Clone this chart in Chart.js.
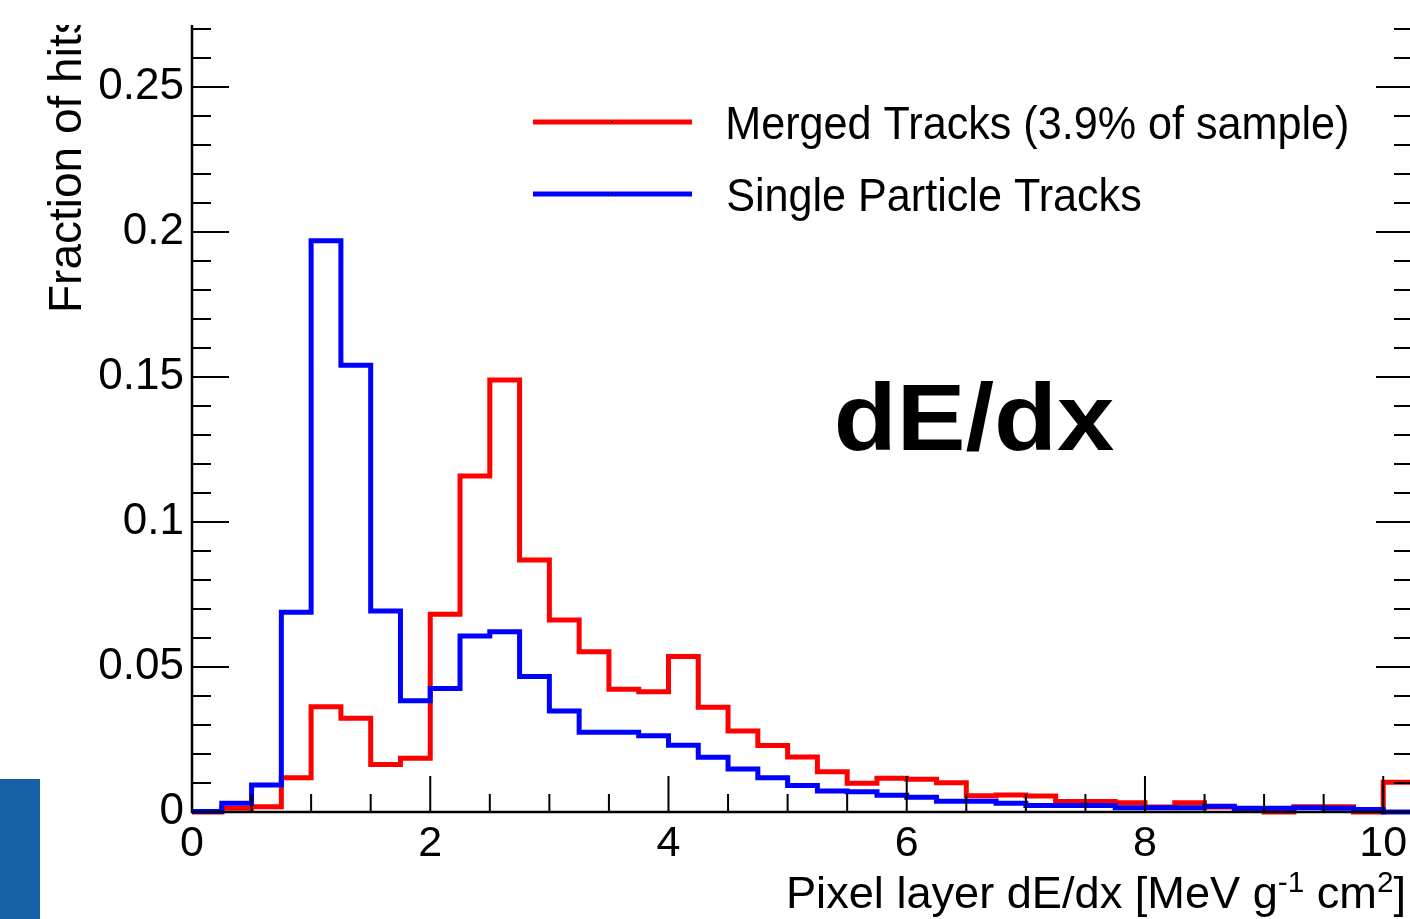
<!DOCTYPE html>
<html><head><meta charset="utf-8">
<script src="https://cdn.jsdelivr.net/npm/chart.js@4"></script>
<style>
html,body{margin:0;padding:0;background:#fff;overflow:hidden;width:1410px;height:919px}
#wrap{position:absolute;left:0;top:0;width:1430px;height:919px}
#deco{position:absolute;left:0;top:779px;width:40px;height:140px;background:#1660a6;z-index:2}
</style></head><body>
<div id="wrap"><canvas id="c" width="1430" height="919"></canvas></div>
<div id="deco"></div>
<script>
// ---- data ----
const binEdges = [0,0.25,0.5,0.75,1,1.25,1.5,1.75,2,2.25,2.5,2.75,3,3.25,3.5,3.75,4,4.25,4.5,4.75,5,5.25,5.5,5.75,6,6.25,6.5,6.75,7,7.25,7.5,7.75,8,8.25,8.5,8.75,9,9.25,9.5,9.75,10,10.25];
const mergedTracks = [0,0.0013,0.0018,0.0118,0.0363,0.0323,0.0164,0.0185,0.0682,0.1159,0.149,0.0869,0.0662,0.0553,0.0423,0.0415,0.0536,0.0361,0.0279,0.0229,0.019,0.0139,0.0099,0.0116,0.0113,0.0101,0.0056,0.0059,0.0055,0.0036,0.0036,0.0032,0.0017,0.0032,0.0017,0.0012,0,0.0018,0.0018,0,0.0103];
const singleTracks = [0.0002,0.003,0.0093,0.0689,0.197,0.1541,0.0693,0.0384,0.0426,0.0607,0.0622,0.0467,0.0348,0.0275,0.0275,0.0263,0.023,0.0189,0.0148,0.0118,0.0091,0.0072,0.007,0.0058,0.0051,0.0037,0.0037,0.003,0.0022,0.0022,0.0022,0.0015,0.0015,0.0015,0.002,0.0013,0.0013,0.0015,0.0013,0.0009,0];
const xTickValues = [0,2,4,6,8,10];
const xTickLabels = ['0','2','4','6','8','10'];
const yTickValues = [0,0.05,0.1,0.15,0.2,0.25];
const yTickLabels = ['0','0.05','0.1','0.15','0.2','0.25'];
const seriesNames = ['Merged Tracks (3.9% of sample)','Single Particle Tracks'];
const yTitle = 'Fraction of hits';
const xTitleParts = ['Pixel layer dE/dx [MeV g','-1',' cm','2',']'];
const annotationText = 'dE/dx';

const FONT = '"Liberation Sans", Arial, Helvetica, sans-serif';

function histPoints(vals){
  const pts = vals.map((v,i)=>({x:binEdges[i], y:v}));
  pts.push({x:binEdges[vals.length], y:vals[vals.length-1]});
  return pts;
}

function scaledText(ctx, text, x, y, targetWidth){
  const m = ctx.measureText(text);
  const ink = m.actualBoundingBoxLeft + m.actualBoundingBoxRight;
  const sx = targetWidth / ink;
  ctx.save();
  ctx.translate(x, y);
  ctx.scale(sx, 1);
  ctx.fillText(text, m.actualBoundingBoxLeft, 0);
  ctx.restore();
  return sx;
}

const decor = {
  id:'decor',
  afterDatasetsDraw(chart){
    const {ctx, chartArea:a, scales:{x, y}} = chart;
    ctx.save();
    ctx.strokeStyle = '#000';
    ctx.lineCap = 'butt';
    ctx.lineWidth = 2.5;
    ctx.beginPath();
    ctx.moveTo(a.left, a.top); ctx.lineTo(a.left, a.bottom); ctx.lineTo(a.right, a.bottom); ctx.lineTo(a.right, a.top);
    ctx.stroke();
    ctx.lineWidth = 2;
    ctx.beginPath();
    for (let k = 1; k <= 20; k++){
      const px = x.getPixelForValue(k*0.5);
      const L = (k % 4 === 0) ? 36 : 18;
      ctx.moveTo(px, a.bottom); ctx.lineTo(px, a.bottom - L);
    }
    for (let k = 1; k <= 27; k++){
      const py = y.getPixelForValue(k*0.01);
      const L = (k % 5 === 0) ? 37 : 19;
      ctx.moveTo(a.left, py); ctx.lineTo(a.left + L, py);
      ctx.moveTo(a.right, py); ctx.lineTo(a.right - L, py);
    }
    ctx.stroke();
    ctx.restore();
  },
  afterDraw(chart){
    const {ctx} = chart;
    ctx.save();
    const rows = [{c:'#ff0000', y:122}, {c:'#0000ff', y:194}];
    ctx.lineWidth = 5;
    rows.forEach(r => {
      ctx.strokeStyle = r.c;
      ctx.beginPath(); ctx.moveTo(533, r.y); ctx.lineTo(692, r.y); ctx.stroke();
      ctx.fillStyle = '#000';
      ctx.fillRect(611, r.y - 1, 2, 2);
    });
    ctx.fillStyle = '#000';
    ctx.textBaseline = 'alphabetic';
    ctx.textAlign = 'left';
    ctx.font = '47px ' + FONT;
    const sx = scaledText(ctx, seriesNames[0], 728, 139, 619);
    {
      const m = ctx.measureText(seriesNames[1]);
      ctx.save(); ctx.translate(728, 211); ctx.scale(sx, 1);
      ctx.fillText(seriesNames[1], m.actualBoundingBoxLeft, 0); ctx.restore();
    }
    ctx.font = 'bold 94px ' + FONT;
    scaledText(ctx, annotationText, 837, 450, 277);
    const parts = xTitleParts.map((t, i) => ({t, sup: i === 1 || i === 3}));
    let total = 0;
    parts.forEach(p => { ctx.font = (p.sup ? '29px ' : '44px ') + FONT; p.w = ctx.measureText(p.t).width; total += p.w; });
    const xsx = 620 / total;
    ctx.save();
    ctx.translate(786, 908);
    ctx.scale(xsx, 1);
    let cx = 0;
    parts.forEach(p => { ctx.font = (p.sup ? '29px ' : '44px ') + FONT; ctx.fillText(p.t, cx, p.sup ? -16 : 0); cx += p.w; });
    ctx.restore();
    ctx.save();
    ctx.beginPath(); ctx.rect(0, 25, 200, 900); ctx.clip();
    ctx.translate(81, 313);
    ctx.rotate(-Math.PI/2);
    ctx.font = '46px ' + FONT;
    ctx.fillText(yTitle, 0, 0);
    ctx.restore();
    ctx.restore();
  }
};

function noPad(s){ s.paddingTop = 0; s.paddingBottom = 0; s.paddingLeft = 0; s.paddingRight = 0; }

new Chart(document.getElementById('c'), {
  type: 'line',
  data: {
    datasets: [
      {label: seriesNames[0], data: histPoints(mergedTracks), borderColor:'#ff0000', borderWidth:5, stepped:'before', pointRadius:0, fill:false, clip:false, order:1},
      {label: seriesNames[1], data: histPoints(singleTracks), borderColor:'#0000ff', borderWidth:5, stepped:'before', pointRadius:0, fill:false, clip:false, order:0}
    ]
  },
  options: {
    responsive:false, animation:false, devicePixelRatio:1,
    layout:{padding:{top:25, right:17, left:0, bottom:0}},
    plugins:{legend:{display:false}, tooltip:{enabled:false}},
    scales:{
      x:{type:'linear', min:0, max:10.25,
        grid:{display:false, drawTicks:false}, border:{display:false},
        afterBuildTicks: s => { s.ticks = xTickValues.map(v => ({value:v})); },
        afterFit: s => { s.height = 107; noPad(s); },
        ticks:{padding:6, maxRotation:0, autoSkip:false, color:'#000', font:{family:FONT, size:43},
          callback:(v, i) => xTickLabels[i]}},
      y:{type:'linear', min:0, max:0.2714,
        grid:{display:false, drawTicks:false}, border:{display:false},
        afterBuildTicks: s => { s.ticks = yTickValues.map(v => ({value:v})); },
        afterFit: s => { s.width = 192; noPad(s); },
        ticks:{padding:8, autoSkip:false, color:'#000', font:{family:FONT, size:44},
          callback:(v, i) => yTickLabels[i]}}
    }
  },
  plugins:[decor]
});
</script>
</body></html>
